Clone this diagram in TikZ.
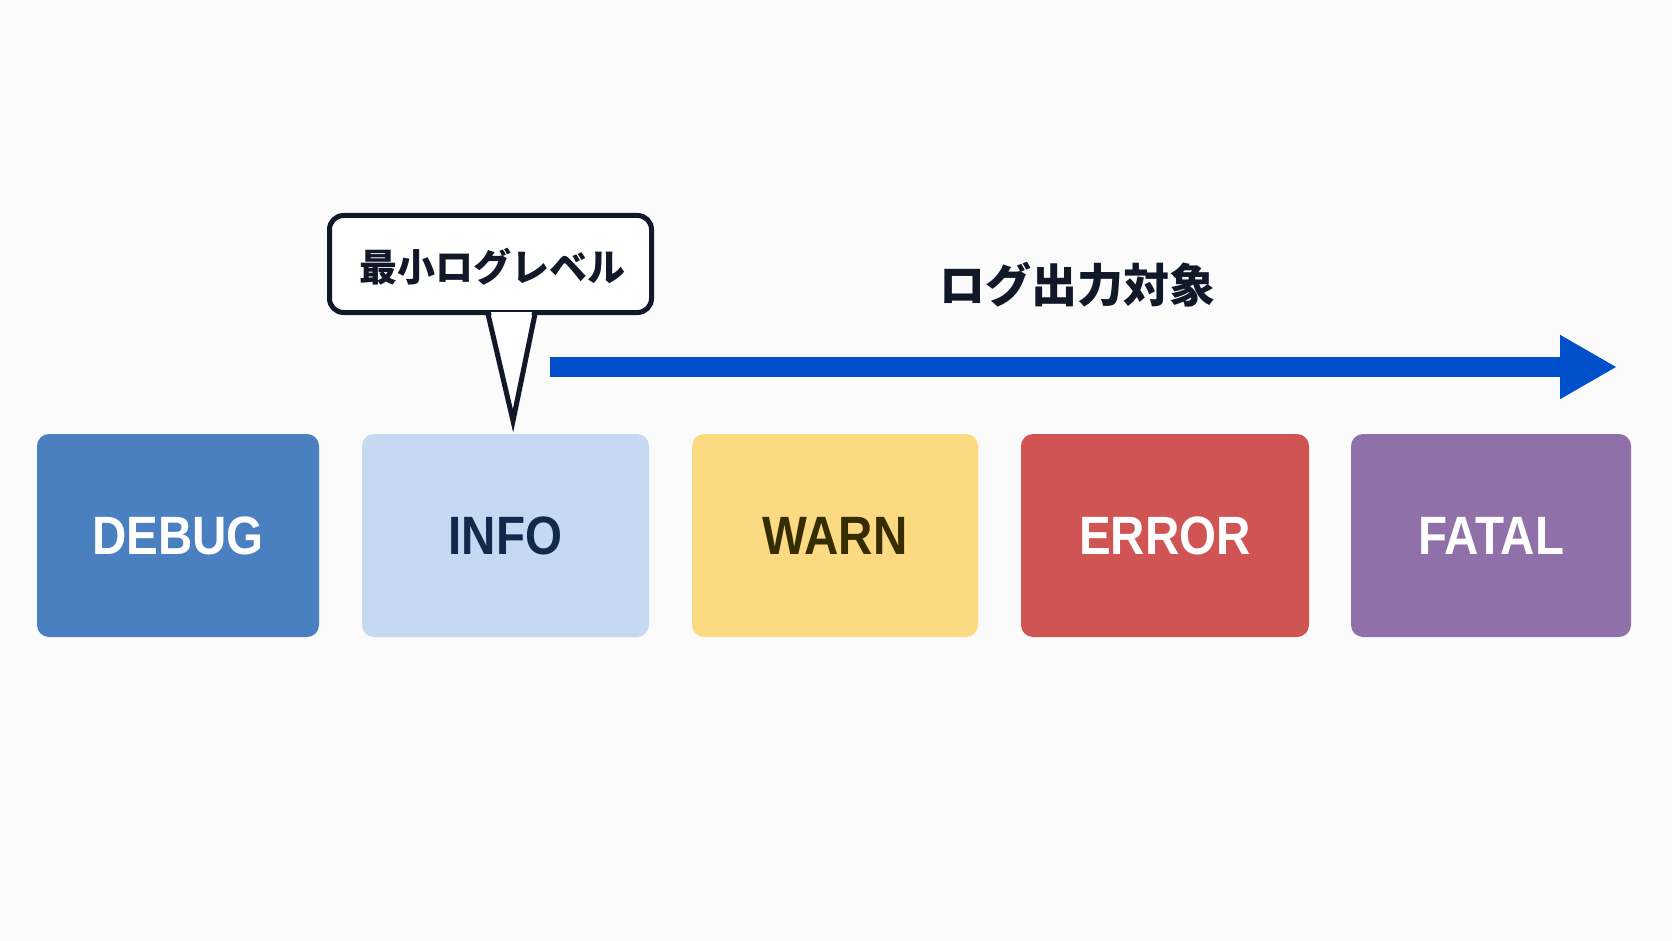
\documentclass[tikz,border=0pt]{standalone}
\usepackage{fontspec}
\setmainfont{Liberation Sans}
\newfontfamily\levelfont{Liberation Sans}[FakeStretch=0.88]
\newfontfamily\jpfont{Noto Sans CJK JP}
\usetikzlibrary{arrows.meta,calc}

\definecolor{bgcol}{HTML}{FBFBFB}
\definecolor{debugcol}{HTML}{4A7FC0}
\definecolor{infocol}{HTML}{C5D9F2}
\definecolor{warncol}{HTML}{FCDA82}
\definecolor{errorcol}{HTML}{D05454}
\definecolor{fatalcol}{HTML}{8F70A8}
\definecolor{navytext}{HTML}{13294B}
\definecolor{olivetext}{HTML}{352C00}
\definecolor{inkcol}{HTML}{111827}
\definecolor{arrowcol}{HTML}{0050CC}

\tikzset{
  levelbox/.style={rectangle, rounded corners=12pt, inner sep=0pt,
    minimum height=203pt, font=\levelfont\bfseries\fontsize{54}{60}\selectfont},
  bubblebox/.style={rectangle, draw=inkcol, fill=white, line width=5pt,
    rounded corners=14pt, inner sep=0pt, minimum width=322pt, minimum height=97pt},
  jplabel/.style={text=inkcol, inner sep=0pt},
}

\begin{document}
\begin{tikzpicture}[x=1pt,y=-1pt]
  % canvas
  \fill[bgcol] (0,0) rectangle (1672,941);
  \useasboundingbox (0,0) rectangle (1672,941);

  % the five log levels
  \node[levelbox, fill=debugcol, text=white, minimum width=282pt] (debug) at (178,535.5) {DEBUG};
  \node[levelbox, fill=infocol, text=navytext, minimum width=287pt] (info) at (505.5,535.5) {INFO};
  \node[levelbox, fill=warncol, text=olivetext, minimum width=286pt] (warn) at (835,535.5) {WARN};
  \node[levelbox, fill=errorcol, text=white, minimum width=288pt] (error) at (1165,535.5) {ERROR};
  \node[levelbox, fill=fatalcol, text=white, minimum width=280pt] (fatal) at (1491,535.5) {FATAL};

  % speech bubble marking the minimum level
  \node[bubblebox] (bubble) at (490.5,264) {};
  \node[jplabel, font=\jpfont\bfseries\fontsize{38}{44}\selectfont] (bubbletext) at (492,267) {最小ログレベル};
  \coordinate (tip) at ($(info.north)+(7.5,-13)$);
  \coordinate (baseL) at ($(bubble.south)+(-2.5,-1)$);
  \coordinate (baseR) at ($(bubble.south)+(44.5,-1)$);
  \fill[white] ($(baseL)+(3,-2)$) -- ($(baseR)+(-3,-2)$) -- (tip) -- cycle;
  \draw[inkcol, line width=5pt, line join=miter] (baseL) -- (tip) -- (baseR);

  % range of levels that get written
  \coordinate (arrowstart) at (550,367);
  \coordinate (arrowend) at (1617,367);
  \draw[arrowcol, line width=20pt, -{Triangle[length=57pt,width=60pt]}] (arrowstart) -- (arrowend);
  \node[jplabel, font=\jpfont\bfseries\fontsize{46}{52}\selectfont] (rangelabel) at (1077,285) {ログ出力対象};
\end{tikzpicture}
\end{document}
